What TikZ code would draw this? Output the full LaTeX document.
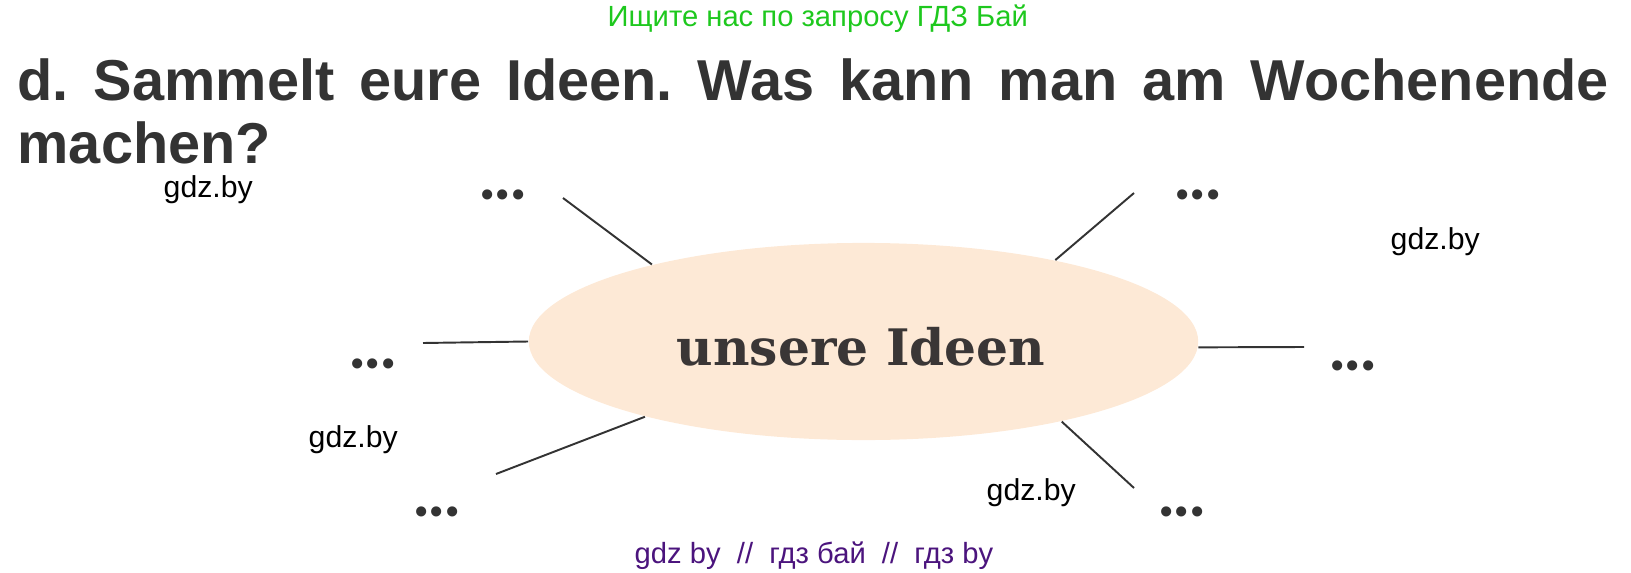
\documentclass[tikz,border=0pt]{standalone}
\usepackage{fontspec}
\newfontfamily\gdzfont{Liberation Sans}
\newfontfamily\ideafont{DejaVu Serif}
\usetikzlibrary{shapes.geometric}
\definecolor{ideaFill}{RGB}{253,233,214}
\definecolor{darkText}{RGB}{51,51,51}
\definecolor{ideaText}{RGB}{58,54,54}
\definecolor{gdzGreen}{RGB}{30,200,30}
\definecolor{gdzPurple}{RGB}{75,20,125}
\frenchspacing
\newcommand{\moreDots}{•\kern0.9pt•\kern0.9pt•}

\begin{document}
\begin{tikzpicture}[x=0.01cm, y=-0.01cm,
	titleText/.style={anchor=base west, inner sep=0pt, text=darkText, font=\gdzfont\bfseries\fontsize{16.4pt}{19pt}\selectfont},
	dotsText/.style={anchor=base, inner sep=0pt, text=darkText, font=\gdzfont\bfseries\fontsize{10pt}{12pt}\selectfont},
	markText/.style={anchor=base west, inner sep=0pt, font=\gdzfont\fontsize{8.6pt}{10pt}\selectfont},
	spoke/.style={line width=0.55pt, draw=darkText}]
	\useasboundingbox (0,0) rectangle (1631,573);

	% watermarks
	\node[markText, text=gdzGreen, font=\gdzfont\fontsize{8.3pt}{10pt}\selectfont](topMark) at (607,27){Ищите нас по запросу ГДЗ Бай};
	\node[markText, text=gdzPurple, font=\gdzfont\fontsize{8.3pt}{10pt}\selectfont](bottomMark) at (634,563){gdz by\ \ //\ \ гдз бай\ \ //\ \ гдз by};
	\node[markText](mark1) at (163,197){gdz.by};
	\node[markText](mark2) at (1390,249){gdz.by};
	\node[markText](mark3) at (308,447){gdz.by};
	\node[markText](mark4) at (986,500){gdz.by};

	% task
	\node[titleText](titleLine1) at (17,101){\makebox[15.9cm][s]{d. Sammelt eure Ideen. Was kann man am Wochenende}};
	\node[titleText](titleLine2) at (17,163){machen?};

	% centre
	\node[ellipse, fill=ideaFill, inner sep=0pt, minimum width=6.69cm, minimum height=1.97cm](idea) at (863.5,341.5){};
	\node[anchor=base, inner sep=0pt, text=ideaText, font=\ideafont\bfseries\fontsize{14.3pt}{17pt}\selectfont](ideaLabel) at (861,365){unsere Ideen};

	% free ends of the spokes
	\coordinate(tlEnd) at (563,198);
	\coordinate(lEnd) at (423,343);
	\coordinate(blEnd) at (496,474);
	\coordinate(trEnd) at (1134,193);
	\coordinate(rEnd) at (1304,347);
	\coordinate(brEnd) at (1134,488);
	\draw[spoke] (idea.160.9) -- (tlEnd);
	\draw[spoke] (idea.180) -- (lEnd);
	\draw[spoke] (idea.199.2) -- (blEnd);
	\draw[spoke] (idea.23.5) -- (trEnd);
	\draw[spoke] (idea.-1) -- (rEnd);
	\draw[spoke] (idea.-22.8) -- (brEnd);

	\node[dotsText](tlDots) at (503,206){\moreDots};
	\node[dotsText](lDots) at (373,375){\moreDots};
	\node[dotsText](blDots) at (437,523){\moreDots};
	\node[dotsText](trDots) at (1198,206){\moreDots};
	\node[dotsText](rDots) at (1353,377){\moreDots};
	\node[dotsText](brDots) at (1182,523){\moreDots};
\end{tikzpicture}
\end{document}
